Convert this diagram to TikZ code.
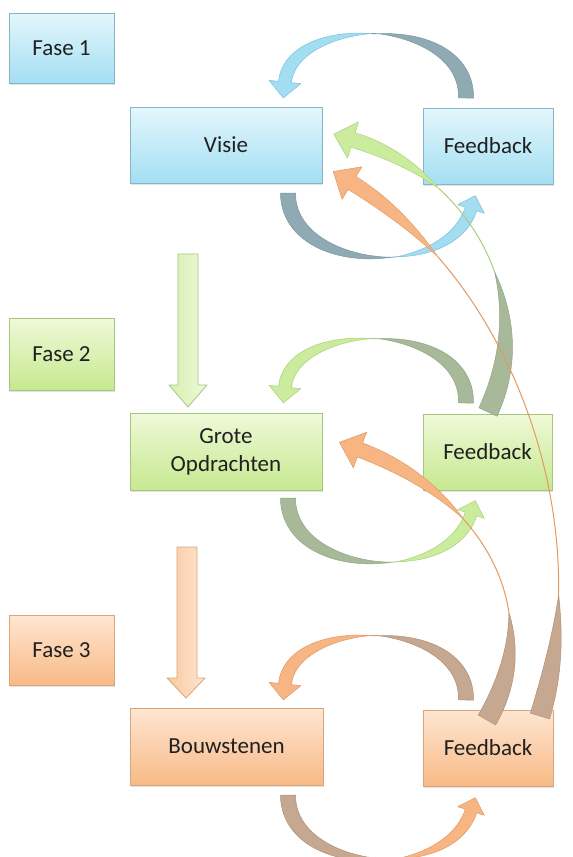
\documentclass[tikz,border=0pt]{standalone}
\usepackage{fontspec}
\setmainfont{Carlito}
\usetikzlibrary{shadows}
\definecolor{txt}{HTML}{202020}
\definecolor{bT}{HTML}{E4F6FC}\definecolor{bD}{HTML}{A3DFF3}\definecolor{bB}{HTML}{86B6C4}
\definecolor{gT}{HTML}{EFF9D9}\definecolor{gD}{HTML}{C6E98F}\definecolor{gB}{HTML}{A8C480}
\definecolor{oT}{HTML}{FEE6D2}\definecolor{oD}{HTML}{F8BA86}\definecolor{oB}{HTML}{D9A47A}
\definecolor{bK}{HTML}{90AAB4}\definecolor{bKe}{HTML}{7A97A3}\definecolor{bL}{HTML}{A2DDF2}\definecolor{bLe}{HTML}{7CC0DA}
\definecolor{gK}{HTML}{A7B998}\definecolor{gKe}{HTML}{91A684}\definecolor{gL}{HTML}{CBEC9C}\definecolor{gLe}{HTML}{A9CF7C}
\definecolor{oK}{HTML}{C6A890}\definecolor{oKe}{HTML}{B08F77}\definecolor{oL}{HTML}{F6B582}\definecolor{oLe}{HTML}{E29A62}
\def\qAx{0}\def\qAy{0}\def\qBx{0}\def\qBy{0}\def\qCx{1}\def\qCy{1}\def\qDx{1}\def\qDy{1}
\tikzset{declare function={
  bz(\qt,\qa,\qb,\qc,\qd)=(1-\qt)^3*\qa+3*(1-\qt)^2*\qt*\qb+3*(1-\qt)*\qt^2*\qc+\qt^3*\qd;
  dz(\qt,\qa,\qb,\qc,\qd)=(1-\qt)^2*(\qb-\qa)/100+2*(1-\qt)*\qt*(\qc-\qb)/100+\qt^2*(\qd-\qc)/100;
  px(\qt)=bz(\qt,\qAx,\qBx,\qCx,\qDx);
  py(\qt)=bz(\qt,\qAy,\qBy,\qCy,\qDy);
  ux(\qt)=dz(\qt,\qAx,\qBx,\qCx,\qDx)/veclen(dz(\qt,\qAx,\qBx,\qCx,\qDx),dz(\qt,\qAy,\qBy,\qCy,\qDy));
  uy(\qt)=dz(\qt,\qAy,\qBy,\qCy,\qDy)/veclen(dz(\qt,\qAx,\qBx,\qCx,\qDx),dz(\qt,\qAy,\qBy,\qCy,\qDy));
}}
\newcommand\qcurve[8]{\def\qAx{#1}\def\qAy{#2}\def\qBx{#3}\def\qBy{#4}\def\qCx{#5}\def\qCy{#6}\def\qDx{#7}\def\qDy{#8}}
% #1 tail width, #2 end of dark part, #3 start of light part, #4 shaft width at head,
% #5 head length, #6 head half width, #7 dark style, #8 light style, #9 thin style
\newcommand\qribbon[9]{%
  \def\qW{#1}\def\qTa{#2}\def\qTb{#3}\def\qH{#4}\def\qHL{#5}\def\qHW{#6}%
  \filldraw[#7] ({px(0)-0.5*\qW*uy(0)},{py(0)+0.5*\qW*ux(0)})
    \foreach \i in {1,...,30}{ -- ({px(\i/30*\qTa)-0.5*\qW*cos(3*\i)*uy(\i/30*\qTa)},{py(\i/30*\qTa)+0.5*\qW*cos(3*\i)*ux(\i/30*\qTa)}) }
    \foreach \i in {29,...,0}{ -- ({px(\i/30*\qTa)+0.5*\qW*cos(3*\i)*uy(\i/30*\qTa)},{py(\i/30*\qTa)-0.5*\qW*cos(3*\i)*ux(\i/30*\qTa)}) }
    -- cycle;
  \draw[#9] plot[domain=\qTa:\qTb,samples=24,smooth] ({px(\x)},{py(\x)});
  \filldraw[#8] ({px(\qTb)},{py(\qTb)})
    \foreach \i in {1,...,30}{ -- ({px(\qTb+\i/30*(1-\qTb))-0.5*\qH*sin(3*\i)*uy(\qTb+\i/30*(1-\qTb))},{py(\qTb+\i/30*(1-\qTb))+0.5*\qH*sin(3*\i)*ux(\qTb+\i/30*(1-\qTb))}) }
    -- ({px(1)-\qHW*uy(1)},{py(1)+\qHW*ux(1)})
    -- ({px(1)+\qHL*ux(1)},{py(1)+\qHL*uy(1)})
    -- ({px(1)+\qHW*uy(1)},{py(1)-\qHW*ux(1)})
    \foreach \i in {30,...,0}{ -- ({px(\qTb+\i/30*(1-\qTb))+0.5*\qH*sin(3*\i)*uy(\qTb+\i/30*(1-\qTb))},{py(\qTb+\i/30*(1-\qTb))-0.5*\qH*sin(3*\i)*ux(\qTb+\i/30*(1-\qTb))}) }
    -- cycle;
}
\tikzset{
  basebox/.style={rectangle, inner sep=0pt, line width=0.8pt, font=\fontsize{23}{28}\selectfont, text=txt, align=center,
    drop shadow={opacity=0.22,shadow xshift=1pt,shadow yshift=-2pt}},
  bluebox/.style={basebox, draw=bB, top color=bT, bottom color=bD},
  greenbox/.style={basebox, draw=gB, top color=gT, bottom color=gD},
  orangebox/.style={basebox, draw=oB, top color=oT, bottom color=oD},
  bdark/.style={fill=bK, draw=bKe, line width=0.5pt, line join=round},
  blight/.style={fill=bL, draw=bLe, line width=0.5pt, line join=round},
  bthin/.style={draw=bKe, line width=0.8pt},
  gdark/.style={fill=gK, draw=gKe, line width=0.5pt, line join=round},
  glight/.style={fill=gL, draw=gLe, line width=0.5pt, line join=round},
  gthin/.style={draw=gLe, line width=1pt},
  odark/.style={fill=oK, draw=oKe, line width=0.5pt, line join=round},
  olight/.style={fill=oL, draw=oLe, line width=0.5pt, line join=round},
  othin/.style={draw=oLe, line width=1pt},
  gdown/.style={draw=gB, line width=0.8pt, left color=gD!70, right color=gT, line join=round},
  odown/.style={draw=oB, line width=0.8pt, left color=oD!80, right color=oT, line join=round},
}
\begin{document}
\begin{tikzpicture}[x=1pt,y=-1pt]
\useasboundingbox (0,0) rectangle (573,857);
\fill[white] (0,0) rectangle (573,857);

% boxes
\node[bluebox, minimum width=105pt, minimum height=70pt] (f1) at (61.5,48) {Fase 1};
\node[bluebox, minimum width=192pt, minimum height=76pt] (visie) at (226,145) {Visie};
\node[bluebox, minimum width=130pt, minimum height=76pt] (fb1) at (488,146) {Feedback};
\node[greenbox, minimum width=105pt, minimum height=72pt] (f2) at (61.5,354) {Fase 2};
\node[greenbox, minimum width=192pt, minimum height=77pt] (grote) at (226,451.5) {Grote\\Opdrachten};
\node[greenbox, minimum width=129pt, minimum height=76pt] (fb2) at (487.5,452) {Feedback};
\node[orangebox, minimum width=105pt, minimum height=70pt] (f3) at (61.5,650) {Fase 3};
\node[orangebox, minimum width=193pt, minimum height=77pt] (bouw) at (226.5,746.5) {Bouwstenen};
\node[orangebox, minimum width=130pt, minimum height=76pt] (fb3) at (488,748) {Feedback};

% straight arrows between phases
\path[gdown] (178,254) -- (198,254) -- (198,385) -- (207,385) -- (188,407) -- (169,385) -- (178,385) -- cycle;
\path[odown] (177,547) -- (197,547) -- (197,678) -- (205,678) -- (186,698) -- (167,678) -- (177,678) -- cycle;

% phase 1 loops
\qcurve{466}{98}{468}{15}{292}{15}{285}{82}
\qribbon{15}{0.5}{0.53}{13}{16}{16}{bdark}{blight}{bthin}
\qcurve{288}{193}{288}{272}{448}{280}{471}{209}
\qribbon{15}{0.58}{0.6}{12}{14}{14}{bdark}{blight}{bthin}

% phase 2 loops
\qcurve{466}{403}{468}{320}{292}{320}{285}{387}
\qribbon{15}{0.5}{0.53}{13}{16}{16}{gdark}{glight}{gthin}
\qcurve{288}{498}{288}{577}{448}{585}{471}{514}
\qribbon{15}{0.58}{0.6}{12}{14}{14}{gdark}{glight}{gthin}

% phase 3 loops
\qcurve{466}{700}{468}{617}{292}{617}{285}{684}
\qribbon{15}{0.5}{0.53}{13}{16}{16}{odark}{olight}{othin}
\qcurve{288}{795}{288}{874}{448}{882}{471}{811}
\qribbon{15}{0.58}{0.6}{12}{14}{14}{odark}{olight}{othin}

% long feedback arrows
\qcurve{488}{412}{540}{300}{470}{175}{353}{140}
\qribbon{20}{0.42}{0.72}{15}{20}{19}{gdark}{glight}{gthin}
\qcurve{487}{720}{550}{610}{480}{495}{360}{450}
\qribbon{20}{0.33}{0.65}{15}{22}{19}{odark}{olight}{othin}
\qcurve{540}{716}{600}{520}{510}{280}{352}{183}
\qribbon{20}{0.2}{0.8}{15}{22}{19}{odark}{olight}{othin}
\end{tikzpicture}
\end{document}
